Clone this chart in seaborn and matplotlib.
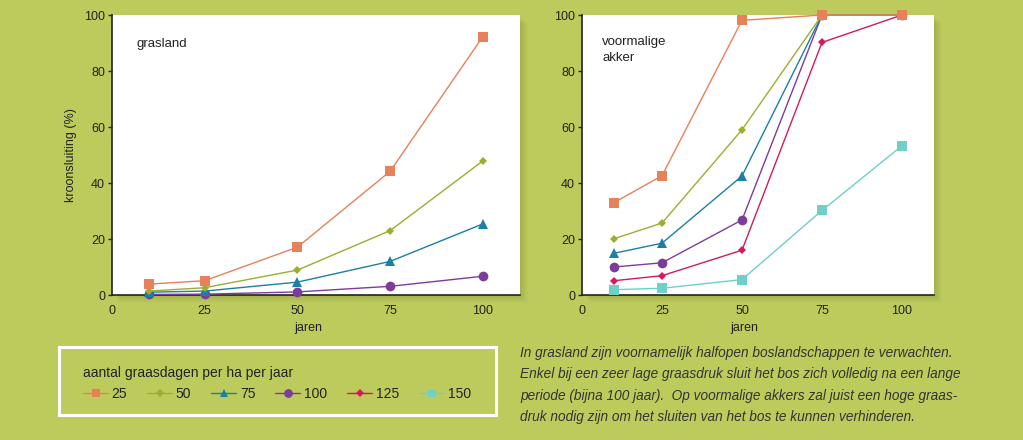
import matplotlib
matplotlib.use("Agg")
import matplotlib.pyplot as plt
from matplotlib.patches import Rectangle
from matplotlib.lines import Line2D
import pandas as pd
import seaborn as sns

# data
jaren = [10, 25, 50, 75, 100]
graasdagen = ["25", "50", "75", "100", "125", "150"]

grasland = {
    "25": [3.9, 5.1, 17.1, 44.2, 92.3],
    "50": [1.4, 2.6, 8.9, 23.0, 47.9],
    "75": [1.0, 1.4, 4.6, 12.0, 25.4],
    "100": [0.2, 0.3, 1.1, 3.1, 6.7],
}
akker = {
    "25": [33.0, 42.6, 98.1, 100.0, 100.0],
    "50": [20.1, 25.7, 59.0, 100.0, 100.0],
    "75": [14.9, 18.5, 42.5, 100.0, 100.0],
    "100": [10.0, 11.5, 26.8, 100.0, 100.0],
    "125": [5.1, 6.9, 16.0, 90.2, 100.0],
    "150": [1.9, 2.4, 5.5, 30.2, 53.3],
}

kleuren = {"25": "#E8805A", "50": "#9BAE2F", "75": "#1B7FA6",
           "100": "#7D3C9A", "125": "#D41A5A", "150": "#6FCFC9"}
markers = {"25": "s", "50": "D", "75": "^", "100": "o", "125": "D", "150": "s"}
msize = {"25": 7, "50": 4.5, "75": 6.5, "100": 7, "125": 4.5, "150": 7}

bg = "#BDCB5D"
txt = "#222222"
sns.set_style("white")
plt.rcParams["font.family"] = ["Liberation Sans", "DejaVu Sans"]

fig = plt.figure(figsize=(10.23, 4.40), dpi=100, facecolor=bg)

ax1 = fig.add_axes([112 / 1023, 1 - 295 / 440, 408 / 1023, 280 / 440])
ax2 = fig.add_axes([582 / 1023, 1 - 295 / 440, 352 / 1023, 280 / 440])

# soft shadow right of each panel
for ax in (ax1, ax2):
    b = ax.get_position()
    for i in range(1, 9):
        fig.patches.append(Rectangle((b.x0 + i / 1023, b.y0 - i / 440), b.width, b.height,
                                     transform=fig.transFigure, facecolor="#6b7a2a",
                                     alpha=0.035, edgecolor="none", zorder=-1))


def teken(ax, reeksen):
    # lowest series first so the 25-line ends up on top
    for k in reversed(list(reeksen)):
        df = pd.DataFrame({"jaren": jaren, "kroon": reeksen[k]})
        sns.lineplot(data=df, x="jaren", y="kroon", ax=ax, color=kleuren[k],
                     marker=markers[k], markersize=msize[k], markeredgewidth=0,
                     linewidth=1.0, clip_on=False, zorder=3)
    ax.set_xlim(0, 110)
    ax.set_ylim(0, 100)
    ax.set_xticks([0, 25, 50, 75, 100])
    ax.set_yticks([0, 20, 40, 60, 80, 100])
    ax.set_facecolor("white")
    for s in ("top", "right"):
        ax.spines[s].set_visible(False)
    for s in ("left", "bottom"):
        ax.spines[s].set_color(txt)
        ax.spines[s].set_linewidth(1.2)
    ax.tick_params(axis="y", length=3, width=1, color=txt, labelsize=9,
                   labelcolor=txt, pad=2, left=True)
    ax.tick_params(axis="x", length=0, labelsize=9, labelcolor=txt, pad=7.5)
    ax.set_xlabel("jaren", fontsize=9, color=txt)
    ax.set_ylabel("")


teken(ax1, grasland)
teken(ax2, akker)
ax1.set_ylabel("kroonsluiting (%)", fontsize=9, color=txt, labelpad=5)
ax1.xaxis.set_label_coords(0.48, -0.097)
ax2.xaxis.set_label_coords(0.46, -0.097)

ax1.text(0.061, 0.895, "grasland", transform=ax1.transAxes, fontsize=9.5,
         color=txt, va="center")
ax2.text(0.057, 0.925, "voormalige\nakker", transform=ax2.transAxes, fontsize=9.5,
         color=txt, va="top", linespacing=1.45)

# legend box
fig.patches.append(Rectangle((59 / 1023, 1 - 415 / 440), 437 / 1023, 68 / 440,
                             transform=fig.transFigure, facecolor="none",
                             edgecolor="white", linewidth=2.2))
handles = [Line2D([], [], color=kleuren[k], marker=markers[k], markersize=msize[k] * 0.9,
                  markeredgewidth=0, linewidth=1.0) for k in graasdagen]
leg = fig.legend(handles, graasdagen, loc="upper left", bbox_to_anchor=(83 / 1023, 1 - 366 / 440),
                 ncol=6, frameon=False, title="aantal graasdagen per ha per jaar",
                 fontsize=10, title_fontsize=10, handlelength=1.8, handletextpad=0.25,
                 columnspacing=1.45, alignment="left", borderaxespad=0, borderpad=0,
                 labelspacing=0.5)
leg.get_title().set_color(txt)
for t in leg.get_texts():
    t.set_color(txt)

caption = ("In grasland zijn voornamelijk halfopen boslandschappen te verwachten.\n"
           "Enkel bij een zeer lage graasdruk sluit het bos zich volledig na een lange\n"
           "periode (bijna 100 jaar).  Op voormalige akkers zal juist een hoge graas-\n"
           "druk nodig zijn om het sluiten van het bos te kunnen verhinderen.")
fig.text(520 / 1023, 1 - 346 / 440, caption, fontsize=9.8, style="italic",
         color="#333333", va="top", ha="left", linespacing=1.66)

fig.savefig("out.png", dpi=100, facecolor=bg)
